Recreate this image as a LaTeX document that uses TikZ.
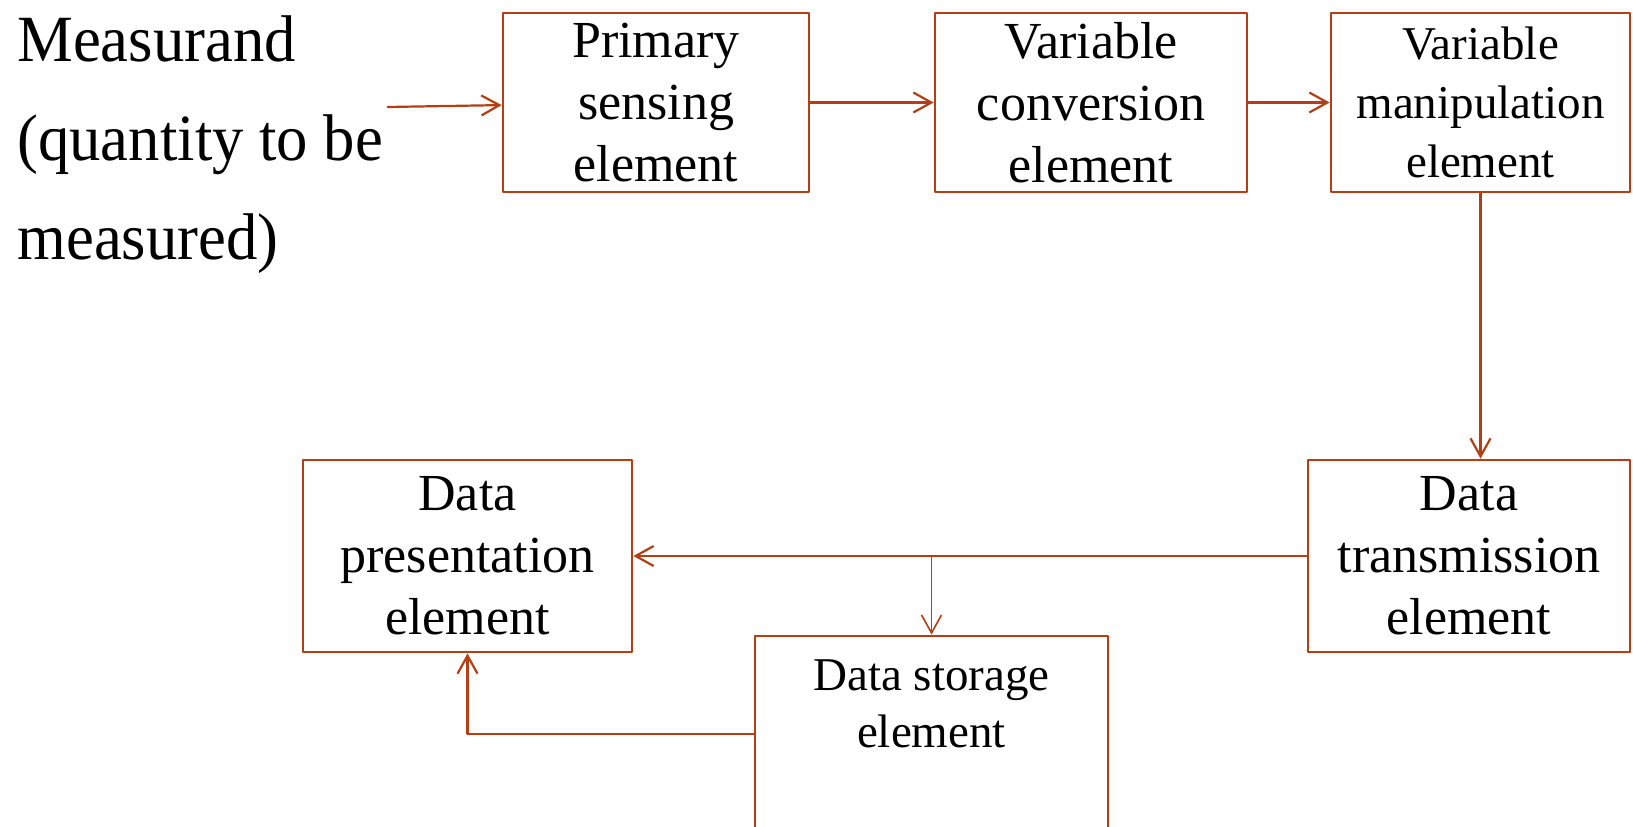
\documentclass[tikz,border=0pt]{standalone}
\usepackage{fontspec}
\setmainfont{Liberation Serif}
\newfontfamily\measfont[FakeStretch=0.95]{Liberation Serif}
\usetikzlibrary{arrows.meta}
\definecolor{rust}{RGB}{181,62,18}
\begin{document}
\begin{tikzpicture}[x=0.5pt,y=-0.5pt, line join=round,
	box/.style={draw=rust, line width=1.4pt, inner sep=0pt, align=center, font=\fontsize{26}{31}\selectfont},
	flow/.style={draw=rust, line width=1.1pt, -{Straight Barb[length=9pt,width=10pt]}}]
	\useasboundingbox (0,0) rectangle (1633,826);
	\node[anchor=north west, align=left, inner sep=0pt, font=\measfont\fontsize{33}{49.5}\selectfont] (meas) at (17,15) {Measurand\\(quantity to be\\measured)};
	% top row
	\node[box, minimum width=153pt, minimum height=89.5pt] (prim) at (656,102.5) {Primary\\sensing\\element};
	\node[box, minimum width=156pt, minimum height=89.5pt] (conv) at (1091,102.5) {Variable\\conversion\\element};
	\node[box, minimum width=149.5pt, minimum height=89.5pt, font=\fontsize{23.5}{29.5}\selectfont] (manip) at (1480.5,102.5) {Variable\\manipulation\\element};
	% bottom row
	\node[box, minimum width=161pt, minimum height=96pt] (trans) at (1469,556) {Data\\transmission\\element};
	\node[box, minimum width=164.5pt, minimum height=96pt] (pres) at (467.5,556) {Data\\presentation\\element};
	\node[box, minimum width=176.5pt, minimum height=98pt] (stor) at (931.5,734) {};
	\node[anchor=north, yshift=-12.5pt, inner sep=0pt, align=center, font=\fontsize{23.5}{28.5}\selectfont] (stortext) at (stor.north) {Data storage\\element};
	\coordinate (in) at (387,107);
	\coordinate (split) at (stor.north |- trans.west);
	\draw[flow] (in) -- (prim);
	\draw[flow] (prim) -- (conv);
	\draw[flow] (conv) -- (manip);
	\draw[flow] (manip.south) -- (manip.south |- trans.north);
	\draw[flow] (trans) -- (pres);
	\draw[flow, line width=0.8pt] (split) -- (stor.north);
	\draw[flow] (stor.west) -| (pres.south);
\end{tikzpicture}
\end{document}
